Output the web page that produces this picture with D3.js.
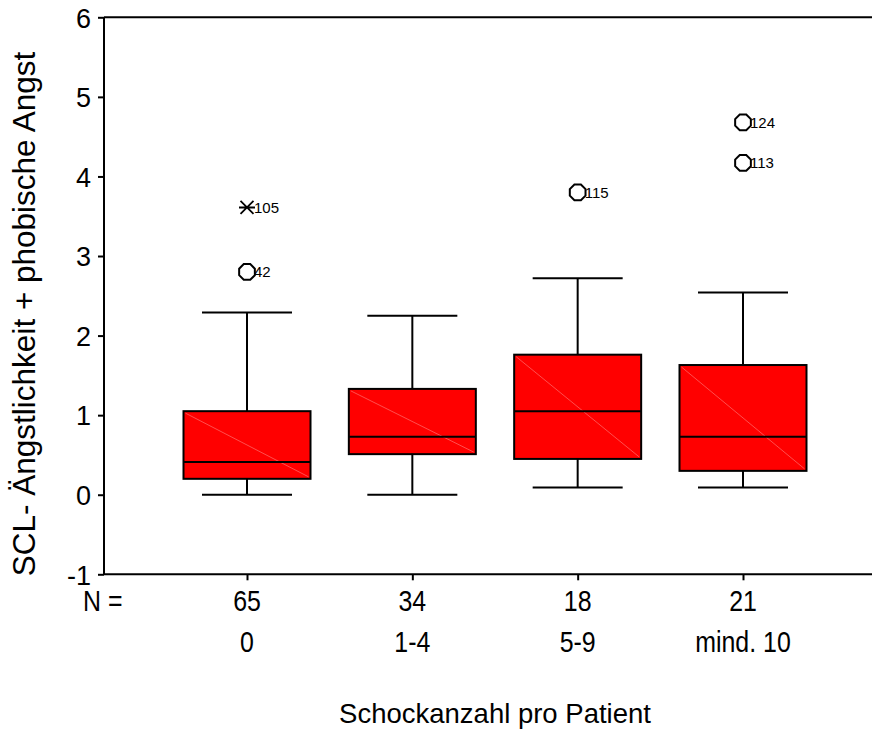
<!DOCTYPE html>
<html><head><meta charset="utf-8">
<script src="https://cdn.jsdelivr.net/npm/d3@7"></script>
<style>body{margin:0;background:#fff}svg{display:block}</style>
</head><body>
<script>
const categories = ["0", "1-4", "5-9", "mind. 10"];
const nValues = [65, 34, 18, 21];
const whiskerLow = [0, 0, 0.09, 0.09];
const q1 = [0.2, 0.51, 0.45, 0.30];
const median = [0.41, 0.73, 1.05, 0.73];
const q3 = [1.05, 1.33, 1.76, 1.63];
const whiskerHigh = [2.29, 2.25, 2.72, 2.54];
const outlierGroup = ["0", "0", "5-9", "mind. 10", "mind. 10"];
const outlierValue = [3.61, 2.8, 3.8, 4.68, 4.17];
const outlierId = ["105", "42", "115", "124", "113"];
const outlierExtreme = [true, false, false, false, false];
const yTicks = [-1, 0, 1, 2, 3, 4, 5, 6];

const W = 872, H = 731;
const pLeft = 104, pTop = 17.3, pBottom = 574.3, pRight = 872;
const svg = d3.select("body").append("svg").attr("width", W).attr("height", H);
const y = d3.scaleLinear().domain([-1, 6]).range([pBottom, pTop]);
const x = d3.scalePoint().domain(categories).range([247, 743]);
const boxW = 127, capW = 90;
const font = "'Liberation Sans', Arial, sans-serif";

// frame lines
svg.append("line").attr("x1", pLeft).attr("x2", pRight).attr("y1", pTop).attr("y2", pTop).attr("stroke", "#000").attr("stroke-width", 2);
svg.append("line").attr("x1", pLeft).attr("x2", pRight).attr("y1", pBottom).attr("y2", pBottom).attr("stroke", "#000").attr("stroke-width", 2);

// y axis
const yAxis = svg.append("g").attr("transform", `translate(${pLeft},0)`)
  .call(d3.axisLeft(y).tickValues(yTicks).tickSize(6).tickSizeOuter(0).tickPadding(7).tickFormat(d => String(d)));
yAxis.select(".domain").attr("stroke-width", 2).attr("d", `M0,${pTop}V${pBottom}`);
yAxis.selectAll(".tick line").attr("stroke-width", 2);
yAxis.selectAll("text").attr("font-family", font).attr("font-size", 27).attr("fill", "#000").attr("dy", "0.36em");

// x ticks
const xAxis = svg.append("g").attr("transform", `translate(0,${pBottom})`)
  .call(d3.axisBottom(x).tickSize(6).tickSizeOuter(0).tickFormat(""));
xAxis.select(".domain").remove();
xAxis.selectAll(".tick line").attr("stroke-width", 2);

// N row and category labels (condensed)
const sx = 0.86, rowFont = 29;
svg.append("text").attr("transform", `translate(83,611) scale(${sx},1)`).attr("font-family", font).attr("font-size", rowFont).text("N =");
svg.selectAll(".nlab").data(categories).join("text").attr("class", "nlab")
  .attr("transform", d => `translate(${x(d)},611) scale(${sx},1)`).attr("text-anchor", "middle")
  .attr("font-family", font).attr("font-size", rowFont).text((d, i) => nValues[i]);
svg.selectAll(".clab").data(categories).join("text").attr("class", "clab")
  .attr("transform", d => `translate(${x(d)},652) scale(${sx},1)`).attr("text-anchor", "middle")
  .attr("font-family", font).attr("font-size", rowFont).text(d => d);

// titles
svg.append("text").attr("x", 495).attr("y", 723).attr("text-anchor", "middle")
  .attr("font-family", font).attr("font-size", 27.5).text("Schockanzahl pro Patient");
svg.append("text").attr("transform", `translate(35,314) rotate(-90)`).attr("text-anchor", "middle")
  .attr("font-family", font).attr("font-size", 31.5).text("SCL- Ängstlichkeit + phobische Angst");

// boxes
const g = svg.append("g");
categories.forEach((c, i) => {
  const cx = x(c);
  g.append("line").attr("x1", cx).attr("x2", cx).attr("y1", y(whiskerHigh[i])).attr("y2", y(q3[i])).attr("stroke", "#000").attr("stroke-width", 2);
  g.append("line").attr("x1", cx).attr("x2", cx).attr("y1", y(q1[i])).attr("y2", y(whiskerLow[i])).attr("stroke", "#000").attr("stroke-width", 2);
  g.append("line").attr("x1", cx - capW / 2).attr("x2", cx + capW / 2).attr("y1", y(whiskerHigh[i])).attr("y2", y(whiskerHigh[i])).attr("stroke", "#000").attr("stroke-width", 2);
  g.append("line").attr("x1", cx - capW / 2).attr("x2", cx + capW / 2).attr("y1", y(whiskerLow[i])).attr("y2", y(whiskerLow[i])).attr("stroke", "#000").attr("stroke-width", 2);
  g.append("rect").attr("x", cx - boxW / 2).attr("y", y(q3[i])).attr("width", boxW).attr("height", y(q1[i]) - y(q3[i]))
    .attr("fill", "#ff0000").attr("stroke", "#000").attr("stroke-width", 2);
  g.append("line").attr("x1", cx - boxW / 2 + 2).attr("x2", cx + boxW / 2 - 2).attr("y1", y(q3[i]) + 2).attr("y2", y(q1[i]) - 2)
    .attr("stroke", "#ff7070").attr("stroke-width", 0.7);
  g.append("line").attr("x1", cx - boxW / 2).attr("x2", cx + boxW / 2).attr("y1", y(median[i])).attr("y2", y(median[i])).attr("stroke", "#000").attr("stroke-width", 2);
});

// outliers
const octagon = r => d3.range(8).map(k => {
  const a = Math.PI / 8 + k * Math.PI / 4;
  return [r * Math.cos(a), r * Math.sin(a)];
});
outlierValue.forEach((v, i) => {
  const cx = x(outlierGroup[i]), cy = y(v);
  if (outlierExtreme[i]) {
    g.append("path").attr("d", `M${cx - 8},${cy}H${cx + 8}M${cx - 6.5},${cy - 6.5}L${cx + 6.5},${cy + 6.5}M${cx - 6.5},${cy + 6.5}L${cx + 6.5},${cy - 6.5}`)
      .attr("stroke", "#000").attr("stroke-width", 1.8).attr("fill", "none");
  } else {
    g.append("path").attr("d", "M" + octagon(8.5).map(p => [cx + p[0], cy + p[1]].join(",")).join("L") + "Z")
      .attr("fill", "none").attr("stroke", "#000").attr("stroke-width", 2);
  }
  g.append("text").attr("x", cx + 7).attr("y", cy + 5.5).attr("font-family", font).attr("font-size", 15).text(outlierId[i]);
});
</script>
</body></html>
